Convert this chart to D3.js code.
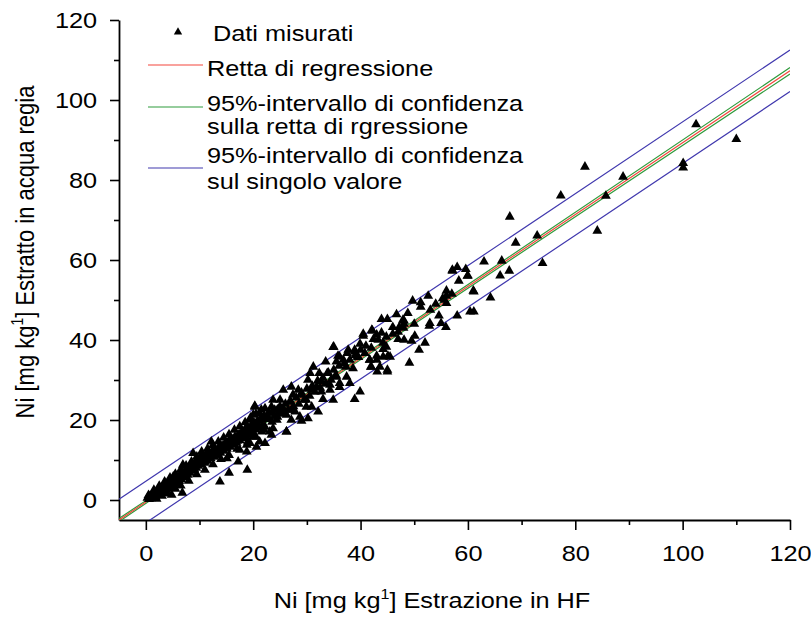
<!DOCTYPE html>
<html>
<head>
<meta charset="utf-8">
<script src="https://cdn.jsdelivr.net/npm/d3@7"></script>
<style>
  body { margin: 0; background: #fff; }
  svg { display: block; }
  text { font-family: "Liberation Sans", Arial, sans-serif; fill: #000; }
</style>
</head>
<body>
<svg width="811" height="617"></svg>
<script>
// axis ticks
const majorTicks = [0, 20, 40, 60, 80, 100, 120];
const minorTicks = [10, 30, 50, 70, 90, 110];

// regression line and bands, read at x = -5, 15, 120
const bandX = [-5, 15, 120];
const fitY = [-5, 12.97, 107.3];
const confUpper = [-4.6, 13.15, 108.1];
const confLower = [-5.4, 12.8, 106.5];
const predUpper = [0.2, 18.2, 112.5];
const predLower = [-10.2, 7.8, 102.1];

// measured points [HF, aqua regia]
const measuredPoints = [
  [0.3,0.5],[0.6,0.2],[0.8,1.0],[1.0,0.4],[1.2,1.3],[1.4,0.8],[1.6,1.6],[1.8,0.9],[2.0,2.0],[2.2,1.2],
  [2.4,2.3],[2.6,1.5],[2.8,2.8],[3.0,1.8],[3.2,3.1],[3.4,2.2],[3.6,3.4],[3.8,2.5],[4.0,3.8],[4.2,2.9],
  [4.4,4.2],[4.6,3.2],[4.8,4.5],[5.0,3.6],[5.2,5.0],[5.4,4.0],[5.6,5.3],[5.8,4.4],[6.0,5.8],[6.2,4.7],
  [6.4,6.2],[6.6,5.1],[6.8,6.6],[7.0,5.6],[7.2,7.1],[7.4,6.0],[7.6,7.5],[7.8,6.3],[8.0,8.0],[8.2,6.8],
  [8.4,8.4],[8.6,7.3],[8.8,8.8],[9.0,7.6],[9.2,9.3],[9.4,8.0],[9.6,9.7],[9.8,8.5],[10.0,10.2],[10.3,8.9],
  [10.6,10.6],[10.9,9.3],[11.2,11.2],[11.5,9.8],[11.8,11.7],[12.1,10.4],[12.4,12.2],[12.7,10.8],[13.0,12.6],[13.3,11.3],
  [13.6,13.2],[13.9,11.8],[14.2,13.6],[14.5,12.3],[14.8,14.2],[15.1,12.8],[15.4,14.7],[15.7,13.3],[16.0,15.3],[16.3,13.8],
  [16.6,15.8],[16.9,14.3],[17.2,16.3],[17.5,14.9],[17.8,16.8],[18.1,15.4],[18.4,17.4],[18.7,15.9],[19.0,17.9],[19.3,16.4],
  [19.6,18.5],[19.9,17.0],[20.2,19.2],[20.5,17.6],[20.8,19.8],[21.1,18.1],[21.4,20.4],[21.7,18.6],[22.0,21.0],
  [1.5,2.5],[2.5,3.5],[3.5,4.6],[4.5,5.6],[5.5,6.5],[6.5,7.6],[7.5,8.6],[8.5,9.6],[9.5,10.8],[10.5,11.6],
  [11.5,12.8],[12.5,13.7],[13.5,14.6],[14.5,15.6],[15.5,16.4],[16.5,17.5],[17.5,18.4],[18.5,19.4],[19.5,20.6],[20.5,21.5],[21.5,22.6],
  [2.0,0.3],[3.0,1.0],[4.0,1.6],[5.5,2.8],[6.5,3.6],[8.0,4.8],[9.5,6.4],[11.0,7.5],[12.5,8.9],[14.0,10.2],
  [15.5,11.2],[17.0,12.8],[19.0,14.6],[20.5,15.8],[22.0,17.5],
  [3,2.3],[5,4.1],[7,5.9],[9,7.8],[11,9.5],[13,11.3],[15,13.1],[17,14.8],[19,16.6],[21,18.4],[23,20.2],[24,21.0],[25,22.0],
  [0.5,1.2],[1.5,1.8],[2.5,2.7],[3.5,3.7],[4.5,4.6],[5.5,5.5],[6.5,6.4],[7.5,7.4],[8.5,8.2],[9.5,9.2],
  [10.5,10.1],[11.5,10.9],[12.5,11.9],[13.5,12.8],[14.5,13.6],[15.5,14.6],[16.5,15.4],[17.5,16.4],[18.5,17.2],[19.5,18.2],
  [20.5,19.0],[21.5,20.0],[22.5,21.0],[23.5,21.8],[24.5,22.6],
  [6.8,1.8],[4.8,1.3],[13.8,4.6],[15.5,6.8],[18.9,7.5],[17.2,9.6],[15.1,10.4],[13.3,11.3],[18.8,12.1],[17.5,12.5],
  [20.6,13.3],[22.2,14.2],[23.1,17.1],[26.2,17.1],[20.3,23.5],[12.2,14.6],[10.4,12.1],[8.8,11.7],[6.9,8.8],[5.1,5.8],[3.2,2.9],
  [22.5,20.5],[23,21.8],[23.5,19.5],[24,22.5],[24.5,20.8],[25,23.4],[25.5,21.5],[26,24],[26.5,22.5],[27,24.6],
  [27.5,23.4],[28,25.6],[28.5,24],[29,26.8],[29.5,25],[30,27.8],[30.5,26],[31,28.5],[31.5,27],[32,29.8],
  [32.5,28],[33,30.5],[33.5,29],[34,31.8],[34.5,30],[35,32.5],[35.5,31],[36,33.5],[37,34.2],[38,35],
  [39,36.2],[40,37.5],[41,38.5],[42,38],[46,41.5],[47,42],[48,43],[53,47.5],[54,49],[56,51],[57,51.5],
  [40.5,41.5],[42.2,42.3],[43.9,41.8],[43.3,40],[44.8,40.8],[35,38.3],[36.1,35.8],[37.5,36.7],[38.9,37.5],[39.4,35.8],
  [40.8,36.7],[41.7,35],[41.9,33.3],[43,35],[44.2,35.8],[45,32.5],[43.1,32.1],[38.6,32.9],[37.3,33.3],[35.5,34.6],
  [33.5,34.6],[31.2,33.3],[32.3,31.7],[30.6,31.7],[33.8,31.7],[35.2,30.8],[37.4,30.8],[36.1,29.2],[38,29.2],[34.3,28.8],
  [32.7,29.6],[31.8,28.3],[30.2,30],[30.9,27.5],[34.3,27.5],[32.7,27.1],[36.1,28.2],[39.9,27.1],[38.9,25.2],[33,25.2],
  [34.9,25],[29.9,25],[25.6,27.5],[27.1,28.3],[28.4,27.5],[27.4,26.3],[29,26.3],[26.8,24.6],[25,25],[23.7,25],
  [23.4,23.3],[25.6,22.9],[27.1,22.5],[29.9,23.3],[30.9,23.3],[32.1,22.1],[28.7,20.8],[30.2,20.4],[27.8,22.1],[26.2,21.3],
  [24.7,21.7],[22.2,22.9],[20.3,23.3],[20,21.3],[21.2,21.7],[22.8,20.4],[24.4,20],[27.1,20],[29,19.8],[19.4,20],
  [18.8,18.3],[20.9,18.8],[22.2,18.3],[23.7,17.9],[26.2,17.1],[18.1,17.1],[17.8,15.8],[20,15.8],[21.6,17.1],[23.4,16.3],
  [21.2,14.6],[19.4,14.2],[18.8,13.8],
  [57.1,57.3],[59.9,56],[58.3,54.8],[56,52.3],[61.1,52.1],[52.6,51],[49.7,49.8],[51.2,49.4],[51.2,48.3],[55.6,50],
  [56,49.2],[60.4,47.1],[61.1,47.1],[58,46.1],[54.6,46.1],[48.8,46.7],[46.7,46.4],[43.9,45.2],[45,45.2],[48.1,44.8],
  [48.1,44],[46,43.2],[47.2,43.2],[50,44],[52.8,43.5],[55.9,43.2],[42.1,42.5],[40.5,41],[43,41.3],[42.4,40.2],
  [44.2,39.3],[47,40.2],[48.1,40],[49.5,39.8],[52,39.3],[50.9,37.5],[39.9,39],[34.9,38.2],[37.7,37.5],[38.9,37.1],
  [44.2,37.7],[45.5,35.8],[35.8,36],[36.8,35],[41.7,35],[43,36],[39.6,35.7],[49.1,34.3],[42,33.3],[43.6,33.3],
  [55.3,50.4],[64.2,50.6],[47.9,45],[50.1,41],[44.8,38.3],[45.1,36],[45,32.1],[55,44.2],[52.9,44.2],
  [77.3,76.1],[67.8,70.8],[72.9,66.1],[68.9,64.3],[63,59.6],[66.3,59.8],[73.9,59.2],[67.7,57.3],[66,56.1],[57.1,57.5],
  [58,58.2],[59.6,57.7],[60,56.1],[61,52.3],
  [110,90.2],[102.5,93.9],[100.1,84.2],[100.1,83.1],[81.8,83.3],[88.9,80.8],[85.7,76],[84.1,67.3]
];

const legendItems = [
  {type: "symbol", lines: ["Dati misurati"]},
  {type: "fit", lines: ["Retta di regressione"]},
  {type: "conf", lines: ["95%-intervallo di confidenza", "sulla retta di rgressione"]},
  {type: "pred", lines: ["95%-intervallo di confidenza", "sul singolo valore"]}
];

const colors = {fit: "#f4463c", conf: "#2f9b3c", pred: "#4038ae"};
const sx = 1.15; // the picture's text is a bit wide

let svg = d3.select("svg");

let xScale = d3.scaleLinear().domain([-5, 120]).range([119, 790]);
let yScale = d3.scaleLinear().domain([-5, 120]).range([520, 20]);

let fontSize = 22;

// axes
let styleAxis = (g) => {
  g.select(".domain").attr("stroke", "#000").attr("stroke-width", 1.8);
  g.selectAll(".tick line").attr("stroke", "#000").attr("stroke-width", 1.6);
  g.selectAll(".tick text").attr("font-size", fontSize).attr("font-family", "Liberation Sans, Arial, sans-serif");
};

let xMinor = svg.append("g")
  .attr("transform", "translate(0,520)")
  .call(d3.axisBottom(xScale).tickValues(minorTicks).tickSize(5).tickSizeOuter(0).tickFormat(""));
xMinor.select(".domain").remove();
xMinor.selectAll(".tick line").attr("stroke", "#000").attr("stroke-width", 1.6);

let xAxis = svg.append("g")
  .attr("transform", "translate(0,520)")
  .call(d3.axisBottom(xScale).tickValues(majorTicks).tickSize(10).tickSizeOuter(0).tickPadding(15).tickFormat(d3.format("d")));
styleAxis(xAxis);
xAxis.selectAll(".tick text").attr("transform", `scale(${sx},1)`);

let yMinor = svg.append("g")
  .attr("transform", "translate(119,0)")
  .call(d3.axisLeft(yScale).tickValues(minorTicks).tickSize(5).tickSizeOuter(0).tickFormat(""));
yMinor.select(".domain").remove();
yMinor.selectAll(".tick line").attr("stroke", "#000").attr("stroke-width", 1.6);

let yAxis = svg.append("g")
  .attr("transform", "translate(119,0)")
  .call(d3.axisLeft(yScale).tickValues(majorTicks).tickSize(9).tickSizeOuter(0).tickPadding(10).tickFormat(d3.format("d")));
styleAxis(yAxis);
yAxis.selectAll(".tick text")
  .attr("x", -19)
  .attr("transform", `scale(${sx},1)`);

// clip for the lines
svg.append("clipPath").attr("id", "plot-clip")
  .append("rect").attr("x", 119).attr("y", 20).attr("width", 671).attr("height", 500);

let bandLine = (values) => d3.line()
  .x((d, i) => xScale(bandX[i]))
  .y((d) => yScale(d))(values);

let lines = svg.append("g").attr("clip-path", "url(#plot-clip)").attr("fill", "none");

// points
let triangle = d3.symbol().type(d3.symbolTriangle).size(42);
svg.append("g")
  .selectAll("path")
  .data(measuredPoints)
  .enter()
  .append("path")
  .attr("d", triangle)
  .attr("fill", "#000")
  .attr("transform", (d) => `translate(${xScale(d[0])},${yScale(d[1])})`);

[[predUpper, "pred"], [predLower, "pred"], [confUpper, "conf"], [confLower, "conf"], [fitY, "fit"]].forEach(([vals, key]) => {
  lines.append("path")
    .attr("d", bandLine(vals))
    .attr("stroke", colors[key])
    .attr("stroke-width", 1.2);
});

// axis titles
let xTitle = svg.append("g").attr("transform", `translate(432,608) scale(${sx},1)`)
  .append("text").attr("text-anchor", "middle").attr("font-size", fontSize);
xTitle.append("tspan").text("Ni [mg kg");
xTitle.append("tspan").attr("font-size", 14).attr("dy", -9).text("1");
xTitle.append("tspan").attr("dy", 9).text("] Estrazione in HF");

let yTitle = svg.append("g").attr("transform", `translate(33.5,252) scale(${sx},1) rotate(-90)`)
  .append("text").attr("text-anchor", "middle").attr("font-size", fontSize);
yTitle.append("tspan").text("Ni [mg kg");
yTitle.append("tspan").attr("font-size", 14).attr("dy", -9).text("1");
yTitle.append("tspan").attr("dy", 9).text("] Estratto in acqua regia");

// legend
let legendRows = [
  {item: legendItems[0], textX: 213, baselines: [41], markY: 32},
  {item: legendItems[1], textX: 207, baselines: [76], markY: 65},
  {item: legendItems[2], textX: 207, baselines: [110.5, 134], markY: 107},
  {item: legendItems[3], textX: 207, baselines: [163, 189], markY: 168}
];

let legend = svg.append("g");
legendRows.forEach((row) => {
  if (row.item.type === "symbol") {
    legend.append("path")
      .attr("d", d3.symbol().type(d3.symbolTriangle).size(30))
      .attr("fill", "#000")
      .attr("transform", `translate(178,${row.markY})`);
  } else {
    legend.append("line")
      .attr("x1", 148).attr("x2", 203)
      .attr("y1", row.markY).attr("y2", row.markY)
      .attr("stroke", colors[row.item.type])
      .attr("stroke-width", 1.2);
  }
  row.item.lines.forEach((t, i) => {
    legend.append("g")
      .attr("transform", `translate(${row.textX},${row.baselines[i]}) scale(${sx},1)`)
      .append("text")
      .attr("font-size", fontSize)
      .text(t);
  });
});
</script>
</body>
</html>
